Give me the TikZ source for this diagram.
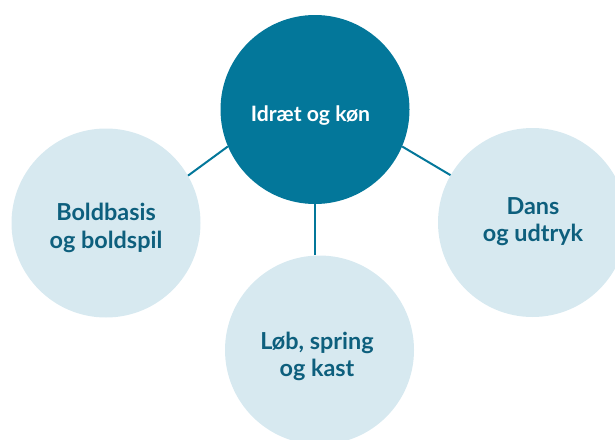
\documentclass[tikz,border=0pt]{standalone}
\usepackage{fontspec}
\setmainfont{Lato}
\definecolor{maincol}{HTML}{03779A}
\definecolor{lightcol}{HTML}{D7E9F0}
\definecolor{textcol}{HTML}{0D5F7D}
\begin{document}
\begin{tikzpicture}[x=1pt,y=-1pt,
  hub/.style={circle,fill=maincol,minimum size=189pt,inner sep=0pt},
  leaf/.style={circle,fill=lightcol,minimum size=189pt,inner sep=0pt},
  link/.style={draw=maincol,line width=2pt},
  leaftext/.style={font=\bfseries\fontsize{23.4}{27.5}\selectfont,text=textcol,align=center,anchor=base,inner sep=0pt},
  hubtext/.style={font=\bfseries\fontsize{21.2}{24}\selectfont,text=white,anchor=base,inner sep=0pt}]
\useasboundingbox (0,0) rectangle (615,439);
\clip (0,0) rectangle (615,439);
\node[hub] (c) at (315,109.5) {};
\node[leaf] (l) at (106,223) {};
\node[leaf] (r) at (532.5,222.5) {};
\node[leaf] (b) at (319.5,350) {};
\draw[link] (c.203.5) -- (l.30.9);
\draw[link] (c.-23.2) -- (r.150.8);
\draw[link] (c.south) -- (c.south |- b.north);
\node[hubtext] (ct) at (310.5,121) {Idræt og køn};
\node[leaftext] (lt) at (106,248.3) {Boldbasis\\og boldspil};
\node[leaftext] (rt) at (533,241.7) {Dans\\og udtryk};
\node[leaftext] (bt) at (317,376.7) {Løb, spring\\og kast};
\end{tikzpicture}
\end{document}
